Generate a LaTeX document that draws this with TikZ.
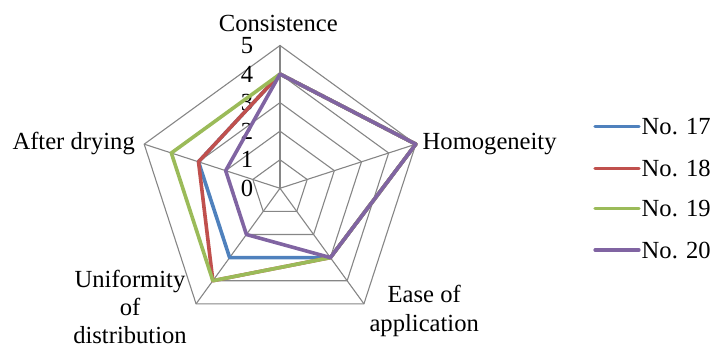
\documentclass[tikz,border=0pt]{standalone}
\usepackage{fontspec}
\setmainfont{Liberation Serif}
\definecolor{s17}{HTML}{4F81BD}
\definecolor{s18}{HTML}{C0504D}
\definecolor{s19}{HTML}{9BBB59}
\definecolor{s20}{HTML}{8064A2}
\definecolor{gridc}{HTML}{868686}
\tikzset{
  gridline/.style={draw=gridc, line width=1.1pt},
  series/.style={line width=3.6pt, line join=round},
  lbl/.style={inner sep=0pt, font=\fontsize{24.6}{28}\selectfont},
  tick/.style={inner sep=0pt, anchor=east, font=\fontsize{24.6}{28}\selectfont},
  legline/.style={line width=3.2pt, line cap=round},
}
\begin{document}
\begin{tikzpicture}[x=1pt,y=1pt]
\useasboundingbox (0,0) rectangle (712,347);
\def\u{28.56}
\begin{scope}[shift={(280,158.7)}]
  \coordinate (O) at (0,0);
  % grid rings
  \foreach \r in {1,...,5} {
    \draw[gridline] (90:\r*\u) -- (18:\r*\u) -- (-54:\r*\u) -- (-126:\r*\u) -- (162:\r*\u) -- cycle;
  }
  % spokes
  \foreach \a/\n in {90/A,18/B,-54/C,-126/D,162/E} {
    \coordinate (\n) at (\a:5*\u);
    \draw[gridline] (O) -- (\n);
  }
  % tick labels
  \foreach \r in {0,...,5} {
    \node[tick] (t\r) at (-26.7,\r*\u) {\r};
  }
  % series data: Consistence, Homogeneity, Ease, Uniformity, After drying
  \foreach \s/\a/\b/\c/\d/\e in {s17/4/5/3/3/3, s18/4/5/3/4/3, s19/4/5/3/4/4, s20/4/5/3/2/2} {
    \coordinate (\s a) at (90:\a*\u);
    \coordinate (\s b) at (18:\b*\u);
    \coordinate (\s c) at (-54:\c*\u);
    \coordinate (\s d) at (-126:\d*\u);
    \coordinate (\s e) at (162:\e*\u);
    \draw[series, draw=\s] (\s a) -- (\s b) -- (\s c) -- (\s d) -- (\s e) -- cycle;
  }
\end{scope}
% axis labels
\node[lbl, anchor=base] (lA) at (278.3,315.3) {Consistence};
\node[lbl, anchor=base west] (lB) at (422.5,197.7) {Homogeneity};
\node[lbl, anchor=base] (lC1) at (424.2,44) {Ease of};
\node[lbl, anchor=base] (lC2) at (424.2,15.5) {application};
\node[lbl, anchor=base] (lD1) at (130,59.5) {Uniformity};
\node[lbl, anchor=base] (lD2) at (130,31.5) {of};
\node[lbl, anchor=base] (lD3) at (130,3.5) {distribution};
\node[lbl, anchor=base east] (lE) at (135,197.7) {After drying};
% legend
\foreach \s/\t/\y in {s17/No. 17/220.3, s18/No. 18/178.7, s19/No. 19/138.7, s20/No. 20/97} {
  \coordinate (L\s a) at (595,\y);
  \coordinate (L\s b) at (639,\y);
  \draw[legline, draw=\s] (L\s a) -- (L\s b);
  \node[lbl, anchor=west] (L\s t) at (641.5,\y) {\t};
}
\end{tikzpicture}
\end{document}
